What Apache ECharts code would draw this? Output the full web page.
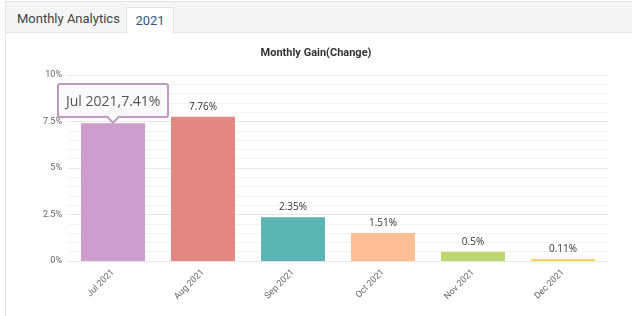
<!DOCTYPE html>
<html>
<head>
<meta charset="utf-8">
<script src="https://cdn.jsdelivr.net/npm/echarts@6/dist/echarts.min.js"></script>
<style>
  html, body { margin: 0; padding: 0; background: #fff; }
  #wrap { position: relative; width: 632px; height: 316px; overflow: hidden; font-family: Roboto, "Open Sans", sans-serif; }
  #frame { position: absolute; left: 5px; top: 1px; width: 640px; height: 320px; border-left: 1px solid #e3e3e3; border-top: 1px solid #e3e3e3; }
  #head { position: absolute; left: 6px; top: 2px; width: 640px; height: 30px; background: #f5f5f5; border-bottom: 1px solid #e6e6e6; }
  #t1 { position: absolute; left: 17px; top: 11px; font-size: 13px; color: #444; }
  #t2 { position: absolute; left: 126px; top: 7px; width: 46px; height: 26px; background: #fff; border: 1px solid #e3e3e3; border-bottom: none; font-size: 13px; color: #34577f; text-align: center; line-height: 25px; }
  #main { position: absolute; left: 0; top: 0; width: 632px; height: 316px; z-index: 2; }
</style>
</head>
<body>
<div id="wrap">
  <div id="frame"></div>
  <div id="head"></div>
  <div id="t1">Monthly Analytics</div>
  <div id="t2">2021</div>
  <div id="main"></div>
</div>
<script>
// 数据
var months = ['Jul 2021', 'Aug 2021', 'Sep 2021', 'Oct 2021', 'Nov 2021', 'Dec 2021'];
var gains = [7.41, 7.76, 2.35, 1.51, 0.5, 0.11];
var barColors = ['#cd9dcc', '#e38782', '#5bb5b3', '#ffbf95', '#bed870', '#f7d55c'];

var myChart = echarts.init(document.getElementById('main'));
var option;

option = {
  backgroundColor: 'transparent',
  title: {
    text: 'Monthly Gain(Change)',
    left: 'center',
    top: 43,
    textStyle: { fontSize: 11, fontWeight: 'bold', color: '#333', fontFamily: 'Roboto' }
  },
  tooltip: {
    trigger: 'item',
    alwaysShowContent: true,
    // 提示框放在柱子顶部
    position: function (point, params, dom, rect, size) {
      var p = myChart.convertToPixel({ seriesIndex: 0 }, [params.dataIndex, params.value]);
      return [p[0] - size.contentSize[0] / 2, p[1] - size.contentSize[1] - 5];
    },
    formatter: function (params) {
      return params.name + ',' + params.value + '%' +
        '<div style="position:absolute;left:50%;bottom:-6px;width:8px;height:8px;margin-left:-5px;' +
        'background:#fafafa;border-right:2px solid #c497c4;border-bottom:2px solid #c497c4;transform:rotate(45deg);"></div>';
    },
    backgroundColor: 'rgba(250,250,250,0.93)',
    borderColor: '#c497c4',
    borderWidth: 2,
    padding: [5, 7],
    textStyle: { color: '#555', fontSize: 14, fontFamily: 'Open Sans' },
    extraCssText: 'box-shadow:none;border-radius:3px;'
  },
  grid: { left: 68, right: 24, top: 75, bottom: 55 },
  xAxis: {
    type: 'category',
    data: months,
    axisLine: { show: false },
    axisTick: { show: false },
    axisLabel: { rotate: 45, fontSize: 9, color: '#666', fontFamily: 'Roboto', margin: 10 }
  },
  yAxis: {
    type: 'value',
    min: 0,
    max: 10,
    interval: 2.5,
    axisLabel: { formatter: '{value}%', fontSize: 9, color: '#666', fontFamily: 'Roboto', margin: 6 },
    splitLine: { lineStyle: { color: '#e8e8e8' } },
    minorTick: { show: false, splitNumber: 5 },
    minorSplitLine: { show: true, lineStyle: { color: '#f4f4f4' } }
  },
  series: [
    {
      type: 'bar',
      barWidth: 64,
      label: {
        show: true,
        position: 'top',
        formatter: '{c}%',
        fontSize: 10,
        color: '#333',
        fontFamily: 'Open Sans'
      },
      data: gains.map(function (v, i) {
        return { value: v, itemStyle: { color: barColors[i] } };
      })
    }
  ]
};

option && myChart.setOption(option);
setTimeout(function () {
  myChart.dispatchAction({ type: 'showTip', seriesIndex: 0, dataIndex: 0 });
}, 50);
</script>
</body>
</html>
